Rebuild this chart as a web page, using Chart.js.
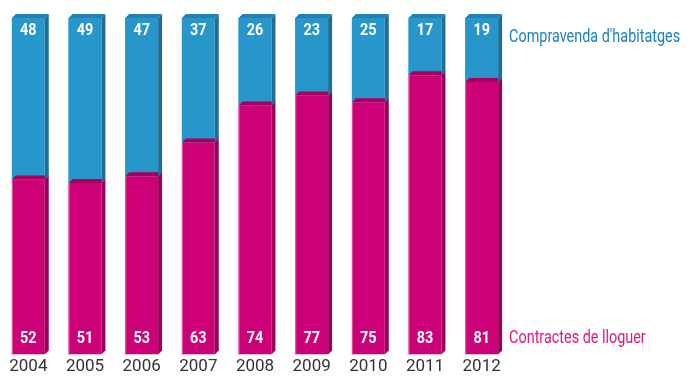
<!DOCTYPE html>
<html>
<head>
    <title>Contractes de lloguer i compravenda</title>
    <script src="https://cdn.jsdelivr.net/npm/chart.js"></script>
    <style>
        html, body { margin: 0; padding: 0; background: #fff; }
        #wrap { width: 687px; height: 379px; }
    </style>
</head>
<body>
    <div id="wrap"><canvas id="barChart"></canvas></div>

    <script>
        var years = ["2004", "2005", "2006", "2007", "2008", "2009", "2010", "2011", "2012"];
        var lloguer = [52, 51, 53, 63, 74, 77, 75, 83, 81];
        var compravenda = [48, 49, 47, 37, 26, 23, 25, 17, 19];
        var seriesNames = ["Contractes de lloguer", "Compravenda d'habitatges"];

        // front, side, top colours for each series
        var faces = [
            { front: "#cc0077", side: "#9a005a", top: "#a6005f", edge: "#e0559f", text: "#e3157f" },
            { front: "#2796ca", side: "#1d6f98", top: "#2282b0", edge: "#2796ca", text: "#1b7fc4" }
        ];
        var depth = 4;
        var family = "Roboto, 'DejaVu Sans', sans-serif";
        var numFont = "bold 16px " + family;
        var nameFont = "18px " + family;

        function poly(ctx, pts, color) {
            ctx.beginPath();
            ctx.moveTo(pts[0][0], pts[0][1]);
            for (var i = 1; i < pts.length; i++) ctx.lineTo(pts[i][0], pts[i][1]);
            ctx.closePath();
            ctx.fillStyle = color;
            ctx.fill();
        }

        // text squeezed horizontally to look condensed
        function narrowText(ctx, text, x, y, sx) {
            ctx.save();
            ctx.translate(x, y);
            ctx.scale(sx, 1);
            ctx.fillText(text, 0, 0);
            ctx.restore();
        }

        // side and top faces plus the value labels
        var boxes = {
            id: "boxes",
            afterDatasetsDraw: function (chart) {
                var ctx = chart.ctx;
                ctx.save();
                [0, 1].forEach(function (d) {
                    var meta = chart.getDatasetMeta(d);
                    meta.data.forEach(function (bar) {
                        var p = bar.getProps(["x", "y", "base", "width"], true);
                        var l = p.x - p.width / 2, r = p.x + p.width / 2;
                        poly(ctx, [[r, p.y], [r + depth, p.y - depth], [r + depth, p.base - depth], [r, p.base]], faces[d].side);
                        poly(ctx, [[l, p.y], [l + depth, p.y - depth], [r + depth, p.y - depth], [r, p.y]], faces[d].top);
                        ctx.fillStyle = faces[d].edge;
                        ctx.fillRect(l, p.y, 1, p.base - p.y);
                    });
                });

                ctx.font = numFont;
                ctx.fillStyle = "#ffffff";
                ctx.textAlign = "center";
                ctx.textBaseline = "middle";
                chart.getDatasetMeta(0).data.forEach(function (bar, i) {
                    narrowText(ctx, lloguer[i], bar.x, bar.base - 16, 0.9);
                });
                chart.getDatasetMeta(1).data.forEach(function (bar, i) {
                    narrowText(ctx, compravenda[i], bar.x, bar.y + 13, 0.9);
                });

                // series names beside the last column
                var n = years.length - 1;
                var lastLow = chart.getDatasetMeta(0).data[n];
                var lastHigh = chart.getDatasetMeta(1).data[n];
                var x0 = lastLow.x + lastLow.width / 2 + depth + 7;
                ctx.font = nameFont;
                ctx.textAlign = "left";
                ctx.fillStyle = faces[1].text;
                narrowText(ctx, seriesNames[1], x0, lastHigh.y + 19, 0.8);
                ctx.fillStyle = faces[0].text;
                narrowText(ctx, seriesNames[0], x0, lastLow.base - 16, 0.8);
                ctx.restore();
            }
        };

        new Chart("barChart", {
            type: "bar",
            data: {
                labels: years,
                datasets: [{
                    label: seriesNames[0],
                    data: lloguer,
                    backgroundColor: faces[0].front
                }, {
                    label: seriesNames[1],
                    data: compravenda,
                    backgroundColor: faces[1].front
                }]
            },
            options: {
                responsive: true,
                maintainAspectRatio: false,
                animation: false,
                layout: { padding: { left: 0, right: 177, top: 18, bottom: 0 } },
                datasets: { bar: { barPercentage: 0.58, categoryPercentage: 1, borderWidth: 0 } },
                plugins: { legend: { display: false }, tooltip: { enabled: false } },
                scales: {
                    x: {
                        stacked: true,
                        grid: { display: false, drawTicks: false },
                        border: { display: false },
                        ticks: {
                            padding: 2,
                            color: "#333333",
                            font: { family: family, size: 17 }
                        }
                    },
                    y: { stacked: true, display: false, min: 0, max: 100 }
                }
            },
            plugins: [boxes]
        });
    </script>
</body>
</html>
